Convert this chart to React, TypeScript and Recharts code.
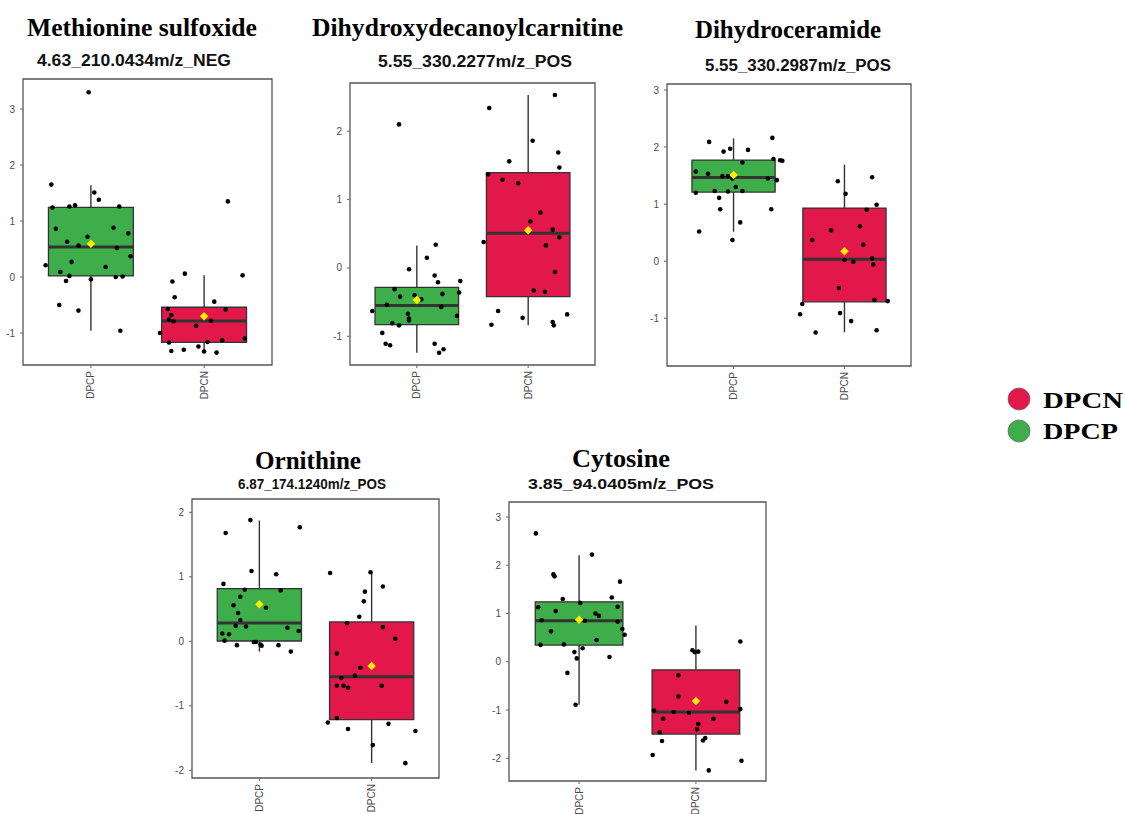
import React from 'react';
import { ComposedChart, XAxis, YAxis, Scatter, ReferenceArea, ReferenceLine } from 'recharts';

// ---- shared categories ----
const groups = ['DPCP', 'DPCN'];
const groupFill: Record<string, string> = { DPCP: '#3DAE49', DPCN: '#E2184B' };

type Pt = [number, number]; // [horizontal jitter (category units), scaled intensity]
type Box = { lo: number; q1: number; med: number; q3: number; hi: number; mean: number };

// ---- Methionine sulfoxide ----
const metTicks = [-1, 0, 1, 2, 3];
const metDPCP: Pt[] = [
  [-0.02, 3.3], [-0.35, 1.65], [0.03, 1.51], [0.07, 1.38], [-0.34, 1.24], [-0.19, 1.26], [-0.14, 1.28],
  [0.25, 1.26], [-0.31, 0.86], [0.2, 0.88], [0.33, 0.78], [-0.03, 0.72], [-0.21, 0.63], [-0.11, 0.56],
  [0.23, 0.52], [0.35, 0.37], [-0.4, 0.21], [-0.17, 0.27], [0.13, 0.18], [-0.27, 0.09], [-0.19, 0.02],
  [0.22, 0.0], [0.28, 0.01], [-0.22, -0.07], [0.0, -0.04], [-0.28, -0.5], [-0.11, -0.6], [0.26, -0.96],
];
const metDPCN: Pt[] = [
  [0.21, 1.35], [-0.17, 0.06], [0.34, 0.03], [-0.28, -0.08], [-0.26, -0.36], [0.09, -0.44], [0.19, -0.58],
  [-0.32, -0.57], [-0.29, -0.68], [-0.31, -0.76], [-0.27, -0.79], [0.06, -0.78], [-0.07, -0.87], [-0.39, -1.0],
  [0.36, -1.1], [-0.31, -1.17], [0.03, -1.16], [0.16, -1.13], [-0.29, -1.32], [-0.18, -1.3], [-0.05, -1.24],
  [0.0, -1.33], [0.11, -1.35],
];
const metBoxes: Box[] = [
  { lo: -0.96, q1: 0.02, med: 0.535, q3: 1.245, hi: 1.64, mean: 0.595 },
  { lo: -1.35, q1: -1.167, med: -0.786, q3: -0.54, hi: 0.03, mean: -0.7 },
];

// ---- Dihydroxydecanoylcarnitine ----
const dhdTicks = [-1, 0, 1, 2];
const dhdDPCP: Pt[] = [
  [-0.16, 2.1], [0.17, 0.34], [0.09, 0.15], [-0.07, -0.02], [0.16, -0.11], [0.19, -0.21], [0.39, -0.19],
  [-0.2, -0.31], [0.38, -0.36], [0.23, -0.38], [-0.15, -0.42], [-0.02, -0.4], [0.04, -0.46], [-0.27, -0.54],
  [0.22, -0.57], [-0.4, -0.63], [-0.08, -0.67], [-0.07, -0.74], [-0.07, -0.77], [0.36, -0.7], [-0.22, -0.81],
  [-0.16, -0.84], [-0.31, -0.95], [-0.28, -1.11], [-0.24, -1.13], [0.16, -1.11], [0.24, -1.19], [0.2, -1.24],
];
const dhdDPCN: Pt[] = [
  [0.24, 2.53], [-0.35, 2.34], [0.04, 1.86], [0.27, 1.69], [-0.17, 1.56], [0.28, 1.47], [-0.36, 1.37],
  [-0.23, 1.29], [-0.09, 1.24], [0.11, 0.81], [0.02, 0.68], [0.22, 0.56], [0.28, 0.45], [-0.4, 0.38],
  [0.16, 0.33], [0.24, -0.06], [0.05, -0.33], [0.15, -0.35], [-0.27, -0.63], [0.35, -0.68], [-0.05, -0.73],
  [-0.33, -0.83], [0.22, -0.79], [0.23, -0.84],
];
const dhdBoxes: Box[] = [
  { lo: -1.24, q1: -0.828, med: -0.551, q3: -0.283, hi: 0.33, mean: -0.468 },
  { lo: -0.84, q1: -0.419, med: 0.507, q3: 1.394, hi: 2.53, mean: 0.551 },
];

// ---- Dihydroceramide ----
const dhcTicks = [-1, 0, 1, 2, 3];
const dhcDPCP: Pt[] = [
  [0.35, 2.16], [-0.22, 2.09], [-0.03, 1.97], [-0.09, 1.92], [0.13, 1.95], [0.36, 1.79], [0.42, 1.77],
  [0.44, 1.76], [0.08, 1.73], [-0.34, 1.57], [-0.23, 1.53], [-0.1, 1.49], [-0.05, 1.49], [-0.01, 1.45],
  [0.31, 1.45], [0.39, 1.42], [0.02, 1.3], [-0.17, 1.23], [-0.05, 1.22], [0.08, 1.23], [-0.34, 1.2],
  [-0.13, 1.11], [-0.12, 0.91], [0.34, 0.91], [0.06, 0.68], [-0.31, 0.52], [-0.01, 0.37],
];
const dhcDPCN: Pt[] = [
  [0.25, 1.47], [-0.06, 1.4], [0.01, 1.18], [0.29, 0.99], [0.2, 0.9], [0.14, 0.61], [-0.12, 0.54],
  [-0.29, 0.37], [0.17, 0.29], [0.0, 0.02], [0.25, 0.05], [0.08, -0.01], [0.26, -0.06], [-0.05, -0.47],
  [0.27, -0.68], [0.39, -0.7], [-0.38, -0.75], [-0.4, -0.93], [-0.04, -0.91], [0.06, -1.05], [0.29, -1.21],
  [-0.26, -1.25],
];
const dhcBoxes: Box[] = [
  { lo: 0.515, q1: 1.211, med: 1.468, q3: 1.772, hi: 2.152, mean: 1.509 },
  { lo: -1.246, q1: -0.713, med: 0.035, q3: 0.93, hi: 1.69, mean: 0.175 },
];

// ---- Ornithine ----
const ornTicks = [-2, -1, 0, 1, 2];
const ornDPCP: Pt[] = [
  [-0.08, 1.88], [0.36, 1.77], [-0.3, 1.68], [-0.07, 1.09], [0.15, 1.04], [-0.32, 0.89], [-0.13, 0.8],
  [0.19, 0.79], [-0.17, 0.69], [-0.23, 0.56], [0.06, 0.52], [-0.19, 0.44], [-0.17, 0.33], [-0.21, 0.24],
  [-0.12, 0.23], [0.25, 0.21], [0.35, 0.16], [-0.33, 0.12], [-0.27, 0.11], [-0.31, 0.01], [-0.03, -0.01],
  [-0.05, -0.01], [0.01, -0.05], [0.02, -0.07], [-0.2, -0.06], [0.17, -0.06], [0.28, -0.16],
];
const ornDPCN: Pt[] = [
  [-0.37, 1.06], [-0.01, 1.07], [0.1, 0.85], [-0.06, 0.77], [-0.07, 0.62], [-0.11, 0.38], [-0.22, 0.28],
  [0.1, 0.22], [0.21, 0.04], [-0.31, -0.19], [-0.1, -0.41], [-0.15, -0.53], [-0.27, -0.57], [-0.31, -0.69],
  [-0.25, -0.69], [-0.21, -0.72], [0.09, -0.69], [-0.31, -1.19], [-0.39, -1.26], [0.15, -1.28], [-0.21, -1.36],
  [0.39, -1.39], [0.01, -1.61], [0.3, -1.89],
];
const ornBoxes: Box[] = [
  { lo: -0.16, q1: 0.005, med: 0.285, q3: 0.818, hi: 1.874, mean: 0.575 },
  { lo: -1.889, q1: -1.216, med: -0.549, q3: 0.3, hi: 1.07, mean: -0.383 },
];

// ---- Cytosine ----
const cytTicks = [-2, -1, 0, 1, 2, 3];
const cytDPCP: Pt[] = [
  [-0.37, 2.66], [0.11, 2.22], [-0.22, 1.81], [-0.21, 1.77], [0.35, 1.66], [-0.14, 1.3], [0.28, 1.33],
  [-0.35, 1.13], [0.33, 1.14], [0.01, 1.22], [-0.2, 1.05], [0.14, 1.0], [0.17, 0.95], [-0.32, 0.86],
  [0.05, 0.85], [0.33, 0.83], [0.37, 0.68], [-0.24, 0.63], [0.39, 0.56], [0.15, 0.45], [-0.33, 0.35],
  [-0.13, 0.36], [0.03, 0.28], [-0.04, 0.2], [0.26, 0.1], [-0.02, 0.07], [-0.1, -0.23], [-0.03, -0.89],
];
const cytDPCN: Pt[] = [
  [0.38, 0.42], [-0.03, 0.24], [-0.01, 0.2], [0.02, 0.21], [-0.15, -0.28], [-0.15, -0.72], [0.26, -0.83],
  [-0.36, -1.01], [0.38, -0.98], [-0.19, -1.04], [-0.06, -1.06], [-0.28, -1.18], [0.15, -1.18], [0.02, -1.29],
  [0.01, -1.4], [-0.31, -1.46], [0.08, -1.58], [0.06, -1.63], [-0.29, -1.64], [-0.37, -1.93], [0.39, -2.05],
  [0.11, -2.25],
];
const cytBoxes: Box[] = [
  { lo: -0.89, q1: 0.345, med: 0.849, q3: 1.242, hi: 2.208, mean: 0.87 },
  { lo: -2.25, q1: -1.498, med: -1.042, q3: -0.166, hi: 0.752, mean: -0.814 },
];

// ---- titles ----
const titles = ['Methionine sulfoxide', 'Dihydroxydecanoylcarnitine', 'Dihydroceramide', 'Ornithine', 'Cytosine'];
const subtitles = [
  '4.63_210.0434m/z_NEG',
  '5.55_330.2277m/z_POS',
  '5.55_330.2987m/z_POS',
  '6.87_174.1240m/z_POS',
  '3.85_94.0405m/z_POS',
];

// ---- layout (page pixels) ----
// plot frame: [left, top, width, height]; y domain of each panel
const panelLayout = [
  { frame: [23, 79, 249, 286], yDomain: [-1.571, 3.536] },
  { frame: [350, 83, 245, 282], yDomain: [-1.42, 2.706] },
  { frame: [667, 84, 244, 282], yDomain: [-1.837, 3.105] },
  { frame: [192, 499, 247, 279], yDomain: [-2.12, 2.207] },
  { frame: [509, 502, 257, 279], yDomain: [-2.47, 3.31] },
];
const titleLayout = [
  { x: 27, y: 36, w: 230, size: 26 },
  { x: 312, y: 36, w: 311, size: 26 },
  { x: 695, y: 38, w: 186, size: 26 },
  { x: 255, y: 469, w: 106, size: 25 },
  { x: 572, y: 467, w: 98, size: 25 },
];
const subtitleLayout = [
  { x: 37, y: 66, w: 194, size: 16 },
  { x: 378, y: 67, w: 194, size: 16 },
  { x: 705, y: 71, w: 186, size: 16 },
  { x: 238, y: 489, w: 148, size: 14 },
  { x: 528, y: 489, w: 186, size: 14.5 },
];

const FRAME = '#555555';
const INK = '#333333';
const TICK_TEXT = '#4d4d4d';
const SANS = '"Liberation Sans", Arial, sans-serif';
const SERIF = '"Liberation Serif", "Times New Roman", serif';

const XTick = (props: any) => {
  const { x, y, payload } = props;
  return (
    <text
      x={x}
      y={y}
      transform={`rotate(-90, ${x}, ${y})`}
      textAnchor="end"
      dominantBaseline="central"
      fontSize={10}
      fill={TICK_TEXT}
      fontFamily={SANS}
    >
      {groups[payload.value - 1]}
    </text>
  );
};

const Dot = (props: any) => <circle cx={props.cx} cy={props.cy} r={2.3} fill="#000" />;

const MeanDiamond = (props: any) => {
  const { cx, cy } = props;
  const r = 4.2;
  return (
    <polygon
      points={`${cx},${cy - r} ${cx + r},${cy} ${cx},${cy + r} ${cx - r},${cy}`}
      fill="#FFEE00"
    />
  );
};

type PanelProps = { frame: number[]; yDomain: number[]; yTicks: number[]; points: Pt[][]; boxes: Box[] };

function BoxPanel({ frame, yDomain, yTicks, points, boxes }: PanelProps) {
  const [fx, fy, fw, fh] = frame;
  const W = fw + 45;
  const H = fh + 50;
  const pts = points.flatMap((arr, gi) => arr.map(([j, v]) => ({ x: gi + 1 + j, y: v })));
  const means = boxes.map((b, gi) => ({ x: gi + 1, y: b.mean }));
  const half = 0.375;
  return (
    <div style={{ position: 'absolute', left: fx - 40, top: fy - 5, width: W, height: H }}>
      <ComposedChart width={W} height={H} margin={{ top: 5, right: 5, bottom: 0, left: 10 }}>
        <XAxis
          type="number"
          dataKey="x"
          domain={[0.4, 2.6]}
          ticks={[1, 2]}
          allowDataOverflow
          interval={0}
          height={45}
          axisLine={false}
          tickLine={{ stroke: '#666', strokeWidth: 1 }}
          tickSize={3}
          tickMargin={3}
          tick={<XTick />}
        />
        <YAxis
          type="number"
          dataKey="y"
          domain={yDomain}
          ticks={yTicks}
          allowDataOverflow
          interval={0}
          width={30}
          axisLine={false}
          tickLine={{ stroke: '#666', strokeWidth: 1 }}
          tickSize={3}
          tickMargin={5}
          tick={{ fontSize: 10, fill: TICK_TEXT, fontFamily: SANS }}
        />
        {boxes.map((b, gi) => (
          <ReferenceLine
            key={`wu${gi}`}
            segment={[{ x: gi + 1, y: b.q3 }, { x: gi + 1, y: b.hi }]}
            stroke={INK}
            strokeWidth={1.4}
            ifOverflow="visible"
          />
        ))}
        {boxes.map((b, gi) => (
          <ReferenceLine
            key={`wl${gi}`}
            segment={[{ x: gi + 1, y: b.lo }, { x: gi + 1, y: b.q1 }]}
            stroke={INK}
            strokeWidth={1.4}
            ifOverflow="visible"
          />
        ))}
        {boxes.map((b, gi) => (
          <ReferenceArea
            key={`box${gi}`}
            x1={gi + 1 - half}
            x2={gi + 1 + half}
            y1={b.q1}
            y2={b.q3}
            fill={groupFill[groups[gi]]}
            fillOpacity={1}
            stroke={INK}
            strokeWidth={1.3}
            ifOverflow="visible"
          />
        ))}
        {boxes.map((b, gi) => (
          <ReferenceLine
            key={`med${gi}`}
            segment={[{ x: gi + 1 - half, y: b.med }, { x: gi + 1 + half, y: b.med }]}
            stroke={INK}
            strokeWidth={3}
            ifOverflow="visible"
          />
        ))}
        <ReferenceArea
          x1={0.4}
          x2={2.6}
          y1={yDomain[0]}
          y2={yDomain[1]}
          fill="none"
          stroke={FRAME}
          strokeWidth={1.3}
          ifOverflow="visible"
        />
        <Scatter data={pts} shape={<Dot />} isAnimationActive={false} />
        <Scatter data={means} shape={<MeanDiamond />} isAnimationActive={false} />
      </ComposedChart>
    </div>
  );
}

const panelTicks = [metTicks, dhdTicks, dhcTicks, ornTicks, cytTicks];
const panelPoints = [
  [metDPCP, metDPCN],
  [dhdDPCP, dhdDPCN],
  [dhcDPCP, dhcDPCN],
  [ornDPCP, ornDPCN],
  [cytDPCP, cytDPCN],
];
const panelBoxes = [metBoxes, dhdBoxes, dhcBoxes, ornBoxes, cytBoxes];

// legend: DPCN first, then DPCP
const legendOrder = ['DPCN', 'DPCP'];

export default function App() {
  return (
    <div style={{ position: 'absolute', left: 0, top: 0, width: 1125, height: 814, background: '#fff', overflow: 'hidden' }}>
      {panelLayout.map((p, i) => (
        <BoxPanel
          key={i}
          frame={p.frame}
          yDomain={p.yDomain}
          yTicks={panelTicks[i]}
          points={panelPoints[i]}
          boxes={panelBoxes[i]}
        />
      ))}
      <svg width={1125} height={814} style={{ position: 'absolute', left: 0, top: 0, pointerEvents: 'none' }}>
        {titles.map((t, i) => (
          <text
            key={`t${i}`}
            x={titleLayout[i].x}
            y={titleLayout[i].y}
            textLength={titleLayout[i].w}
            lengthAdjust="spacingAndGlyphs"
            fontFamily={SERIF}
            fontWeight="bold"
            fontSize={titleLayout[i].size}
            fill="#000"
          >
            {t}
          </text>
        ))}
        {subtitles.map((t, i) => (
          <text
            key={`s${i}`}
            x={subtitleLayout[i].x}
            y={subtitleLayout[i].y}
            textLength={subtitleLayout[i].w}
            lengthAdjust="spacingAndGlyphs"
            fontFamily={SANS}
            fontWeight="bold"
            fontSize={subtitleLayout[i].size}
            fill="#111"
          >
            {t}
          </text>
        ))}
        {legendOrder.map((g, i) => (
          <g key={g}>
            <circle cx={1019} cy={399 + i * 32} r={11} fill={groupFill[g]} stroke="#666" strokeWidth={0.7} />
            <text
              x={1043}
              y={408 + i * 30.5}
              textLength={g === 'DPCN' ? 80 : 75}
              lengthAdjust="spacingAndGlyphs"
              fontFamily={SERIF}
              fontWeight="bold"
              fontSize={23}
              fill="#000"
            >
              {g}
            </text>
          </g>
        ))}
      </svg>
    </div>
  );
}
